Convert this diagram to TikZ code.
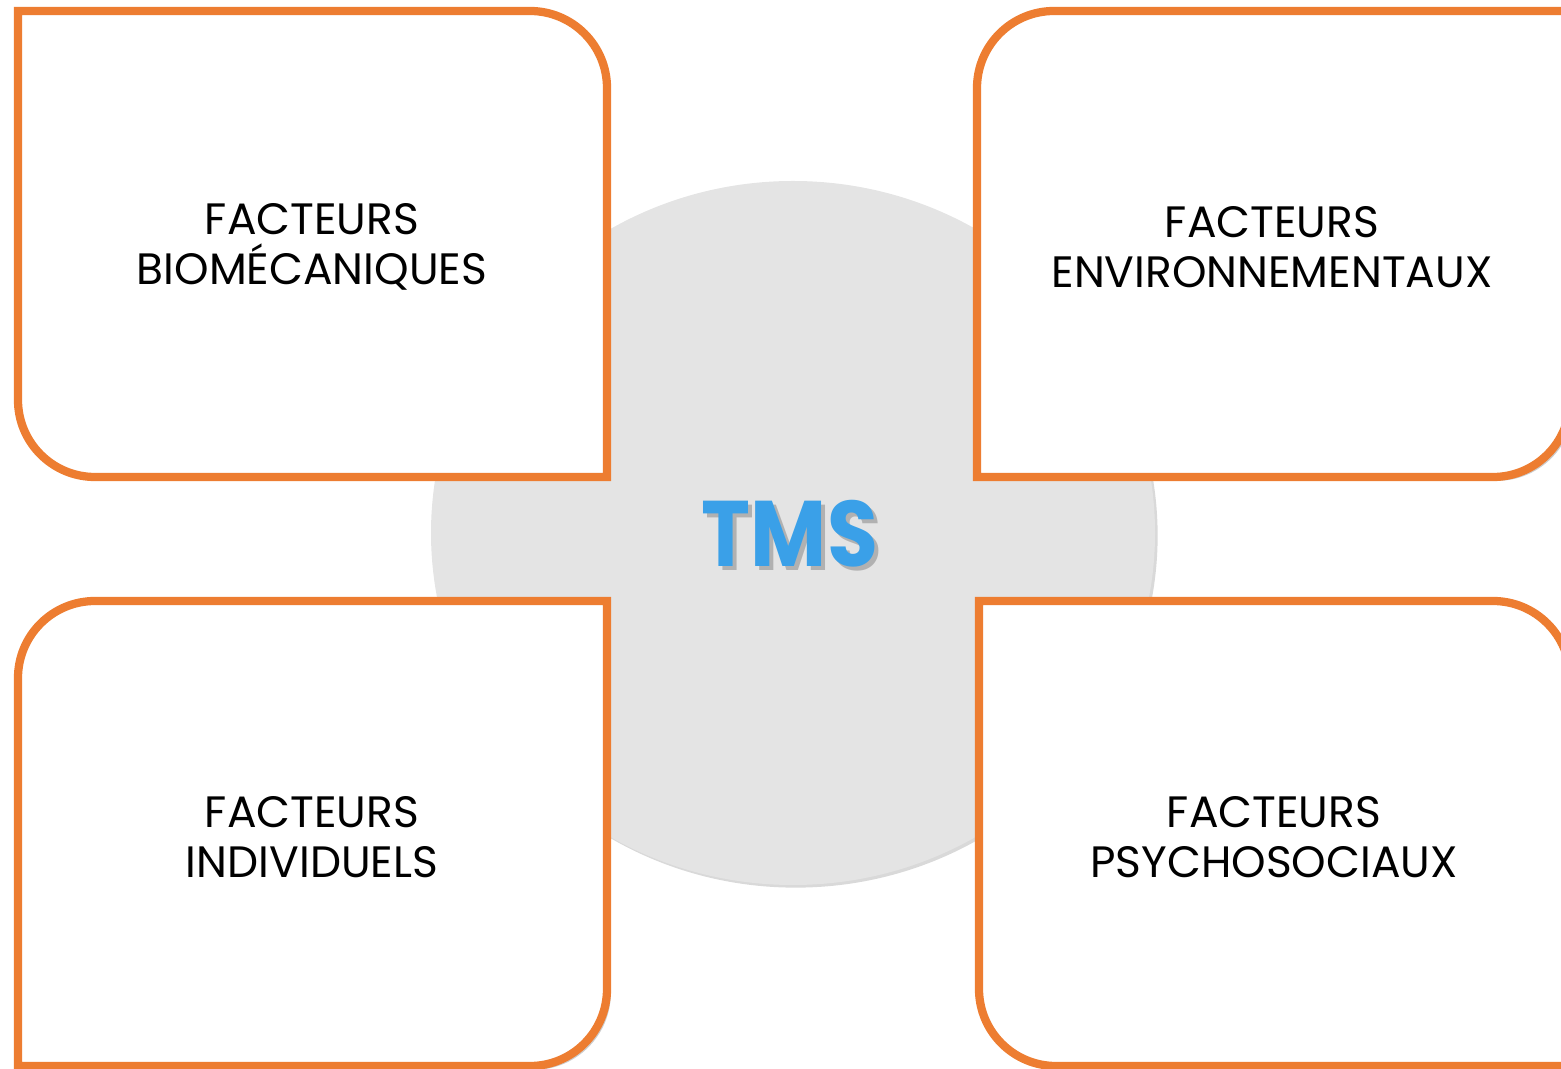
\documentclass[tikz,border=0pt]{standalone}
\usepackage{fontspec}
\setmainfont{Poppins}
\usetikzlibrary{positioning,shadows}
\definecolor{boxorange}{RGB}{237,125,49}
\definecolor{hubgray}{RGB}{228,228,228}
\definecolor{tmsblue}{RGB}{58,160,232}

\begin{document}
\begin{tikzpicture}[x=0.02cm, y=0.02cm,
factorbox/.style={draw=boxorange, fill=white, line width=4.7pt, drop shadow={shadow xshift=2.2pt, shadow yshift=-2.2pt, opacity=0.4}},
hub/.style={fill=hubgray, drop shadow={shadow xshift=1.5pt, shadow yshift=-1.5pt, opacity=0.3}},
factor/.style={align=center, font=\fontsize{25}{28.4}\selectfont, text=black, inner sep=0pt},
tmstext/.style={font=\fontsize{53}{60}\selectfont\bfseries, inner sep=0pt},
]
\useasboundingbox (0,0) rectangle (1561,1068);

%Central circle
\path[hub] (793,535) ellipse [x radius=362, y radius=352];

%Factor boxes
\path[factorbox] (18,1057) -- (530,1057) arc[start angle=90, end angle=0, radius=77]
  -- (607,591) -- (95,591) arc[start angle=270, end angle=180, radius=77] -- cycle;
\path[factorbox] (1570,1057) -- (1054,1057) arc[start angle=90, end angle=180, radius=77]
  -- (977,591) -- (1493,591) arc[start angle=-90, end angle=0, radius=77] -- cycle;
\path[factorbox] (18,2) -- (18,390) arc[start angle=180, end angle=90, radius=77]
  -- (607,467) -- (607,79) arc[start angle=0, end angle=-90, radius=77] -- cycle;
\path[factorbox] (979,467) -- (1493,467) arc[start angle=90, end angle=0, radius=77]
  -- (1570,2) -- (1056,2) arc[start angle=270, end angle=180, radius=77] -- cycle;

%Labels
\node[factor] (bio) at (312,821) {FACTEURS\\BIOMÉCANIQUES};
\node[factor] (env) at (1272,821) {FACTEURS\\ENVIRONNEMENTAUX};
\node[factor] (ind) at (312,231) {FACTEURS\\INDIVIDUELS};
\node[factor] (psy) at (1274,231) {FACTEURS\\PSYCHOSOCIAUX};

%Centre text
\node[tmstext, text=black, opacity=0.22] (tmsshade) at (794,530) {\scalebox{0.89}[1]{TMS}};
\node[tmstext, text=tmsblue] (tms) at (790,534) {\scalebox{0.89}[1]{TMS}};
\end{tikzpicture}
\end{document}
